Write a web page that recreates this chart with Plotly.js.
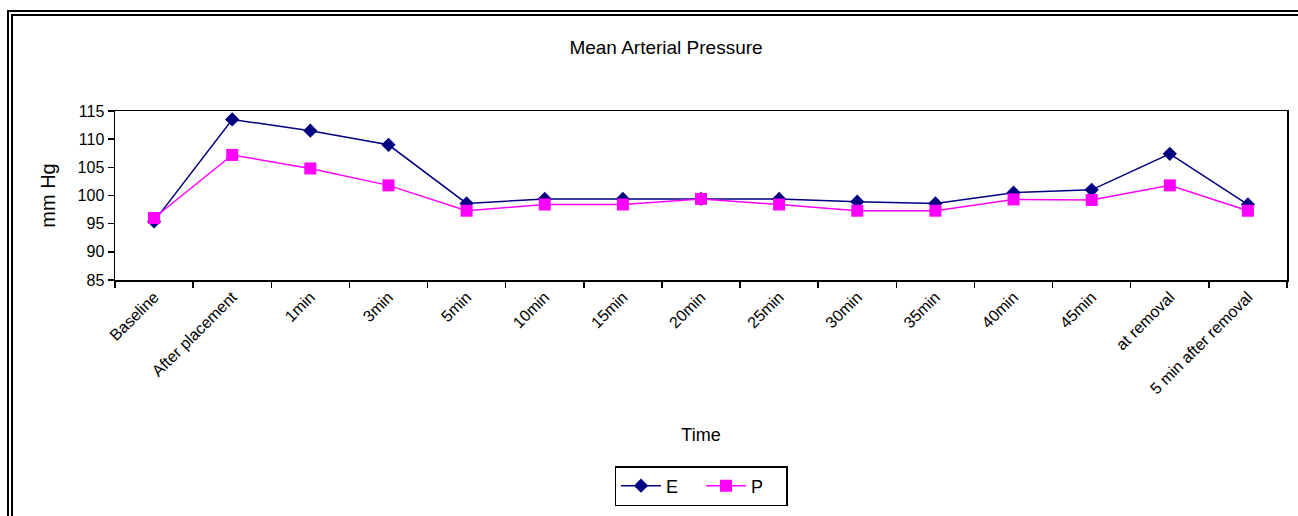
<!DOCTYPE html>
<html>
<head>
<meta charset="utf-8">
<script src="https://cdn.plot.ly/plotly-3.0.1.min.js"></script>
<style>
  html, body { margin: 0; padding: 0; background: #fff; }
  #wrap { position: relative; width: 1298px; height: 516px; overflow: hidden; }
  #chart { width: 1298px; height: 516px; }
  #frame { position: absolute; left: 7px; top: 10px; width: 1400px; height: 700px;
           border-left: 6px double #000; border-top: 6px double #000; pointer-events: none; box-sizing: border-box; }
</style>
</head>
<body>
<div id="wrap">
  <div id="chart"></div>
  <div id="frame"></div>
</div>
<script>
const categories = ["Baseline", "After placement", "1min", "3min", "5min", "10min", "15min", "20min",
                    "25min", "30min", "35min", "40min", "45min", "at removal", "5 min after removal"];
const seriesE = [95.4, 113.5, 111.5, 109.0, 98.6, 99.4, 99.4, 99.4, 99.4, 98.9, 98.6, 100.5, 101.0, 107.4, 98.4];
const seriesP = [96.0, 107.2, 104.8, 101.8, 97.3, 98.4, 98.4, 99.4, 98.4, 97.3, 97.3, 99.3, 99.2, 101.8, 97.3];
const yTicks = [85, 90, 95, 100, 105, 110, 115];

const font = "Liberation Sans, Arial, Helvetica, sans-serif";

const traces = [
  {
    x: categories, y: seriesE, name: "E", type: "scatter", mode: "lines+markers",
    line: { color: "#000080", width: 1.5 },
    marker: { symbol: "diamond", size: 11, color: "#000080" }
  },
  {
    x: categories, y: seriesP, name: "P", type: "scatter", mode: "lines+markers",
    line: { color: "#FF00FF", width: 1.5 },
    marker: { symbol: "square", size: 12, color: "#FF00FF" }
  }
];

const layout = {
  width: 1298, height: 516,
  margin: { l: 115, r: 11, t: 111, b: 236 },
  paper_bgcolor: "rgba(0,0,0,0)",
  plot_bgcolor: "#fff",
  font: { family: font, color: "#000", size: 16 },
  showlegend: true,
  title: {
    text: "Mean Arterial Pressure",
    font: { family: font, size: 19, color: "#000" },
    xref: "container", yref: "container",
    x: 666 / 1298, xanchor: "center",
    y: 1 - 47 / 516, yanchor: "middle"
  },
  xaxis: {
    type: "category",
    range: [-0.5, categories.length - 0.5],
    autorange: false,
    tickangle: -45,
    tickson: "boundaries",
    ticks: "outside", ticklen: 6, tickwidth: 1.5, tickcolor: "#000",
    showline: true, linecolor: "#000", linewidth: 1.5, mirror: true,
    showgrid: false, zeroline: false,
    tickfont: { family: font, size: 16, color: "#000" },
    title: { text: "Time", font: { family: font, size: 18, color: "#000" }, standoff: 32 },
    automargin: false
  },
  yaxis: {
    range: [85, 115],
    autorange: false,
    tickvals: yTicks,
    ticks: "outside", ticklen: 6, tickwidth: 1.5, tickcolor: "#000",
    showline: true, linecolor: "#000", linewidth: 1.5, mirror: true,
    showgrid: false, zeroline: false,
    tickfont: { family: font, size: 16, color: "#000" },
    title: { text: "mm Hg", font: { family: font, size: 20, color: "#000" }, standoff: 16 },
    automargin: false
  },
  legend: {
    orientation: "h",
    x: 0.5, xanchor: "center",
    y: (280 - 466) / 169, yanchor: "top",
    bordercolor: "#000", borderwidth: 1.5,
    bgcolor: "#fff",
    font: { family: font, size: 18, color: "#000" },
    itemwidth: 40,
    entrywidth: 30
  }
};

Plotly.newPlot("chart", traces, layout, { displayModeBar: false, staticPlot: true });
</script>
</body>
</html>
